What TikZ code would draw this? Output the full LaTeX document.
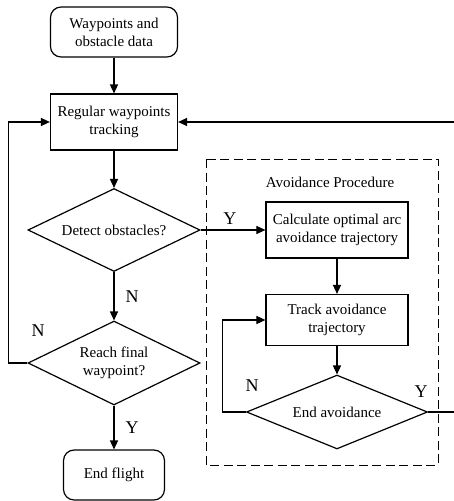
\documentclass[tikz,border=0pt]{standalone}
\usepackage{fontspec}
\setmainfont{Liberation Serif}
\usetikzlibrary{shapes.geometric,arrows.meta}

\tikzset{
    box/.style={draw, line width=0.8pt, align=center, minimum width=84.7pt, minimum height=37.3pt, inner sep=2pt},
    roundbox/.style={box, rounded corners=7pt, minimum height=33.3pt},
    decision/.style={draw, line width=0.8pt, diamond, aspect=2.1, align=center, inner sep=0pt},
    arrow/.style={line width=0.8pt, -{Triangle[length=6pt,width=5.4pt]}},
    line/.style={line width=0.8pt},
    yn/.style={font=\large}
}

\begin{document}
\begin{tikzpicture}[x=0.6667pt, y=-0.6667pt, font=\normalsize]
    \useasboundingbox (0,0) rectangle (454,501);

    % Main loop
    \node[roundbox] (start) at (114,32) {Waypoints and\\obstacle data};
    \node[box] (track) at (114,122) {Regular waypoints\\tracking};
    \node[decision, minimum width=114.7pt, minimum height=55.3pt] (detect) at (114,230) {Detect obstacles?};
    \node[decision, minimum width=114.7pt, minimum height=56pt] (reach) at (114,363) {Reach final\\waypoint?};
    \node[roundbox, minimum width=67.3pt] (finish) at (114,475) {End flight};

    % Avoidance procedure
    \draw[line width=0.6pt, dash pattern=on 6pt off 3pt] (206,159) rectangle (438,465);
    \node (avoid) at (330,182) {Avoidance Procedure};
    \node[box, minimum width=94.7pt] (calc) at (337,230) {Calculate optimal arc\\avoidance trajectory};
    \node[box, minimum width=94.7pt, minimum height=34pt] (trackavoid) at (337,320) {Track avoidance\\trajectory};
    \node[decision, minimum width=120.7pt, minimum height=49.3pt] (endavoid) at (337,412) {End avoidance};

    % Connectors
    \draw[arrow] (start) -- (track);
    \draw[arrow] (track) -- (detect);
    \draw[arrow] (detect.east) -- node[yn, above, pos=0.45] {Y} (calc.west);
    \draw[arrow] (detect) -- node[yn, right, xshift=4pt] {N} (reach);
    \draw[arrow] (reach) -- node[yn, right, xshift=4pt] {Y} (finish);
    \draw[arrow] (reach.west) -- ++(-19,0) |- (track.west);
    \node[yn] at (38,331) {N};
    \draw[arrow] (calc) -- (trackavoid);
    \draw[arrow] (trackavoid) -- (endavoid);
    \draw[arrow] (endavoid.west) -- ++(-23,0) |- (trackavoid.west);
    \node[yn] at (252,386) {N};
    \draw[arrow] (endavoid.east) -- ++(26,0) |- (track.east);
    \node[yn] at (421,392) {Y};
\end{tikzpicture}
\end{document}
